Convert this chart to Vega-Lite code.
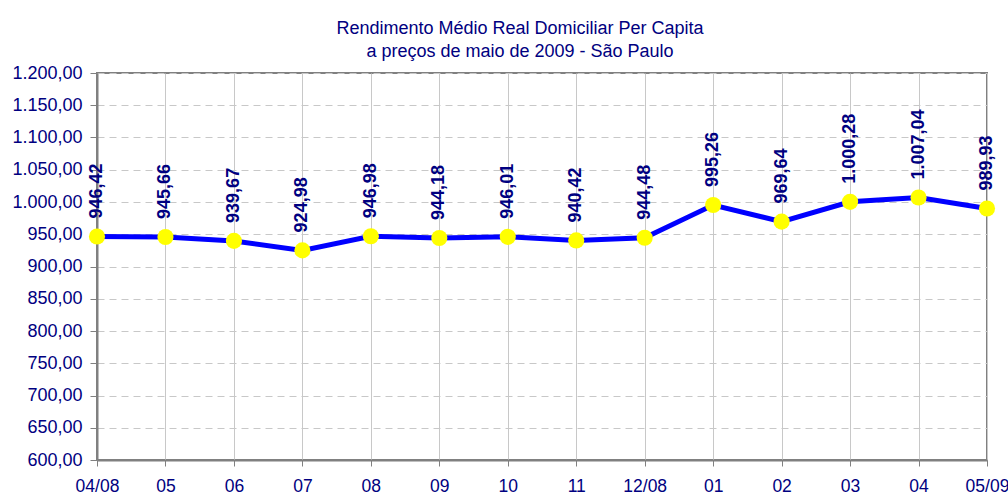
{
  "$schema": "https://vega.github.io/schema/vega-lite/v6.json",
  "width": 890,
  "height": 387,
  "autosize": "none",
  "padding": {"left": 97, "top": 73, "right": 21, "bottom": 42},
  "background": "white",
  "config": {
    "locale": {"number": {"decimal": ",", "thousands": ".", "grouping": [3], "currency": ["R$", ""]}},
    "font": "Liberation Sans",
    "view": {"stroke": "#808080", "strokeWidth": 2}
  },
  "title": {
    "text": ["Rendimento Médio Real Domiciliar Per Capita", "a preços de maio de 2009 -  São Paulo"],
    "font": "Liberation Sans",
    "fontSize": 18,
    "fontWeight": "normal",
    "color": "#000080",
    "anchor": "middle",
    "dx": -22,
    "offset": 3,
    "lineHeight": 23
  },
  "data": {
    "values": [
      {"mes": "04/08", "valor": 946.42},
      {"mes": "05", "valor": 945.66},
      {"mes": "06", "valor": 939.67},
      {"mes": "07", "valor": 924.98},
      {"mes": "08", "valor": 946.98},
      {"mes": "09", "valor": 944.18},
      {"mes": "10", "valor": 946.01},
      {"mes": "11", "valor": 940.42},
      {"mes": "12/08", "valor": 944.48},
      {"mes": "01", "valor": 995.26},
      {"mes": "02", "valor": 969.64},
      {"mes": "03", "valor": 1000.28},
      {"mes": "04", "valor": 1007.04},
      {"mes": "05/09", "valor": 989.93}
    ]
  },
  "encoding": {
    "x": {
      "field": "mes",
      "type": "ordinal",
      "sort": null,
      "scale": {"type": "point", "padding": 0},
      "axis": {
        "title": null,
        "labelAngle": 0,
        "labelFont": "Liberation Sans",
        "labelFontSize": 17.5,
        "labelColor": "#000080",
        "labelPadding": 11,
        "tickSize": 6,
        "tickColor": "#808080",
        "domainColor": "#808080",
        "domainWidth": 2,
        "grid": true,
        "gridColor": "#c8c8c8",
        "gridWidth": 1
      }
    },
    "y": {
      "field": "valor",
      "type": "quantitative",
      "scale": {"domain": [600, 1200], "nice": false, "zero": false},
      "axis": {
        "title": null,
        "values": [600, 650, 700, 750, 800, 850, 900, 950, 1000, 1050, 1100, 1150, 1200],
        "format": ",.2f",
        "labelFont": "Liberation Sans",
        "labelFontSize": 18,
        "labelColor": "#000080",
        "labelPadding": 8,
        "tickSize": 7,
        "tickColor": "#808080",
        "domainColor": "#808080",
        "domainWidth": 2,
        "grid": true,
        "gridColor": "#c8c8c8",
        "gridWidth": 1,
        "gridDash": [7, 5]
      }
    }
  },
  "layer": [
    {"mark": {"type": "line", "color": "#0000FF", "strokeWidth": 5}},
    {"mark": {"type": "point", "filled": true, "color": "#FFFF00", "opacity": 1, "size": 260}},
    {
      "mark": {
        "type": "text",
        "angle": 270,
        "align": "left",
        "baseline": "middle",
        "dx": 18,
        "font": "Liberation Sans",
        "fontSize": 18,
        "fontWeight": "bold",
        "color": "#000080"
      },
      "encoding": {"text": {"field": "valor", "type": "quantitative", "format": ",.2f"}}
    }
  ]
}
